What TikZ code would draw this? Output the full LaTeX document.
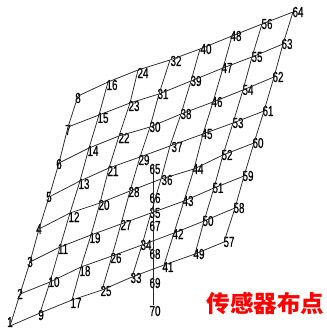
\documentclass[tikz,border=0pt]{standalone}
\usepackage{fontspec}
\setmainfont[FakeStretch=0.68,FakeBold=0.4]{Liberation Sans}
\newfontfamily\cjk{Noto Sans CJK SC}
\begin{document}
\begin{tikzpicture}[x=1pt,y=-1pt,
  lab/.style={inner sep=0pt,font=\fontsize{14.5}{15}\selectfont,text=black},
  vtx/.style={inner sep=0pt,minimum size=0pt},
  grid line/.style={draw=black!85,line width=0.75pt}]
\useasboundingbox (0,0) rectangle (327,330);
\foreach \n/\x/\y/\lx/\ly in {
1/10/326/10/322,2/20/294/20/294,3/30/262/30/262,4/39/229/39/229,5/49/197/49/197,6/59/163/59/164,7/68/127/68/130,8/78/96/78/98,
9/40/313/41/315,10/50/282/54/282,11/60/247/63/249,12/70/213/74/217,13/80/181/84/184,14/89/148/93/151,15/99/115/103/118,16/108/82/112/85,
17/72/300/76/303,18/81/267/85/271,19/91/235/95/238,20/100/203/104/205,21/109/168/113/171,22/119/136/124/138,23/130/103/134/106,24/138/70/143/73,
25/102/290/106/291,26/112/256/116/258,27/121/224/126/225,28/130/191/134/192,29/140/157/144/160,30/150/127/155/127,31/159/94/163/94,32/170/60/176/61,
33/132/277/136/278,34/142/245/146/245,35/151/213/155/213,36/161/179/167/180,37/170/146/177/147,38/181/114/186/114,39/191/81/196/81,40/200/49/206/49,
41/164/265/168/267,42/174/233/178/234,43/184/201/188/201,44/194/169/198/169,45/203/134/207/134,46/213/102/217/102,47/223/68/227/68,48/232/36/236/36,
49/195/254/199/254,50/204/221/208/221,51/214/188/218/188,52/223/155/227/155,53/233/123/238/123,54/243/90/248/90,55/252/57/257/57,56/262/24/267/24,
57/224/242/229/242,58/235/208/239/208,59/244/176/248/176,60/254/143/258/143,61/264/111/268/111,62/274/77/278/77,63/283/44/287/44,64/293/12/298/12}
{ \node[vtx] (v\n) at (\x,\y) {}; \node[lab] (l\n) at (\lx,\ly) {\n}; }
\foreach \n/\y in {65/169,66/198,67/226,68/254,69/283,70/311}
{ \node[lab] (l\n) at (155,\y) {\n}; }
\coordinate (vtop) at (153,164);
\coordinate (vbot) at (153,305);
\draw[grid line] (vtop) -- (vbot);
% columns
\foreach \c in {0,8,...,56}{
  \foreach \i in {1,...,7}{
    \pgfmathtruncatemacro\a{\c+\i}\pgfmathtruncatemacro\b{\c+\i+1}
    \draw[grid line] (v\a) -- (v\b);
  }}
% rows
\foreach \r in {1,...,8}{
  \foreach \j in {0,...,6}{
    \pgfmathtruncatemacro\a{\r+8*\j}\pgfmathtruncatemacro\b{\r+8*\j+8}
    \draw[grid line] (v\a) -- (v\b);
  }}
\node[inner sep=0pt,text=red,font={\cjk\bfseries\fontsize{23.5}{24}\selectfont}] (title) at (265.5,304) {传感器布点};
\end{tikzpicture}
\end{document}
